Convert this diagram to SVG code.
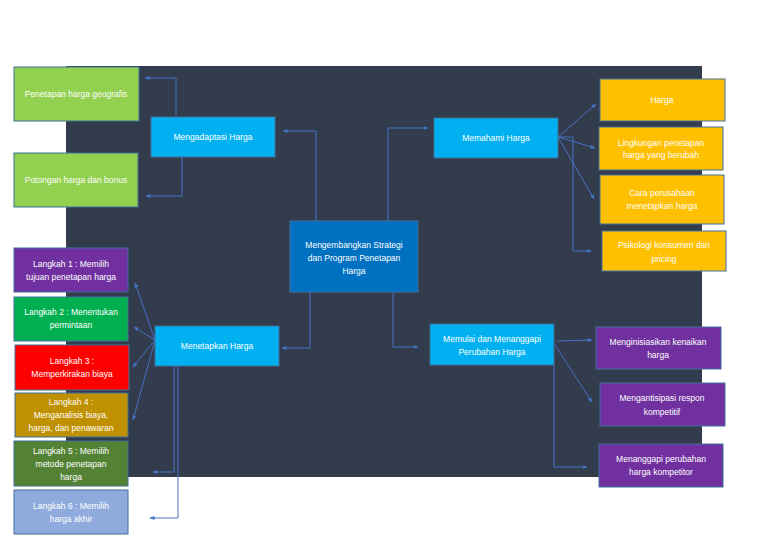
<svg xmlns="http://www.w3.org/2000/svg" width="768" height="543" viewBox="0 0 768 543">
<defs>
<marker id="a" viewBox="0 0 10 10" refX="9" refY="5" markerWidth="5" markerHeight="5" orient="auto"><path d="M0,1 L10,5 L0,9 z" fill="#4472c4"/></marker>
<style>
.n rect{stroke:#41719c;stroke-width:1}
.n text{fill:#fff;font-family:"Liberation Sans",Arial,sans-serif;font-size:8.5px;text-anchor:middle}
#conn path{fill:none;stroke:#4472c4;stroke-width:1;marker-end:url(#a)}
</style>
</defs>
<rect width="768" height="543" fill="#fff"/>
<rect x="66" y="66" width="636" height="411" fill="#333c4d"/>
<g id="conn">
<path d="M316,221 V131 H283"/>
<path d="M388,221 V128 H428"/>
<path d="M176,117 V78 H145"/>
<path d="M182,157 V196 H146"/>
<path d="M558,137 L596,104"/>
<path d="M558,137 L595,148"/>
<path d="M558,137 L594,199"/>
<path d="M558,137 H573 V251 H591"/>
<path d="M310,290 V348 H282"/>
<path d="M393,293 V347 H418"/>
<path d="M557,341 L592,340"/>
<path d="M555,345 L592,402"/>
<path d="M554,365 V467 H587"/>
<path d="M155,340 L135,283"/>
<path d="M155,340 L134,327"/>
<path d="M155,340 L133,367"/>
<path d="M155,340 L133,420"/>
<path d="M174,366 V472 H153"/>
<path d="M178,366 V518 H150"/>
</g>
<g id="geo" class="n"><rect x="14" y="67" width="125" height="54" fill="#92d050"/><text x="76" y="97">Penetapan harga geografis</text></g>
<g id="potongan" class="n"><rect x="14" y="153" width="124" height="54" fill="#92d050"/><text x="76" y="183">Potongan harga dan bonus</text></g>
<g id="adaptasi" class="n"><rect x="151" y="117" width="124" height="40" fill="#00b0f0"/><text x="213" y="140">Mengadaptasi Harga</text></g>
<g id="center" class="n"><rect x="290" y="221" width="128" height="71" fill="#0070c0"/><text x="354" y="248">Mengembangkan Strategi</text><text x="354" y="261">dan Program Penetapan</text><text x="354" y="274">Harga</text></g>
<g id="memahami" class="n"><rect x="434" y="118" width="124" height="40" fill="#00b0f0"/><text x="496" y="141">Memahami Harga</text></g>
<g id="harga" class="n"><rect x="600" y="79" width="125" height="42" fill="#ffc000"/><text x="662" y="103">Harga</text></g>
<g id="lingkungan" class="n"><rect x="599" y="127" width="124" height="43" fill="#ffc000"/><text x="661" y="146">Lingkungan penetapan</text><text x="661" y="158">harga yang berubah</text></g>
<g id="cara" class="n"><rect x="600" y="175" width="124" height="49" fill="#ffc000"/><text x="662" y="196">Cara perusahaan</text><text x="662" y="209">menetapkan harga</text></g>
<g id="psikologi" class="n"><rect x="602" y="231" width="124" height="40" fill="#ffc000"/><text x="664" y="248">Psikologi konsumen dan</text><text x="664" y="262">pricing</text></g>
<g id="memulai" class="n"><rect x="430" y="324" width="124" height="41" fill="#00b0f0"/><text x="492" y="342">Memulai dan Menanggapi</text><text x="492" y="355">Perubahan Harga</text></g>
<g id="inisiasi" class="n"><rect x="596" y="327" width="125" height="42" fill="#7030a0"/><text x="658" y="345">Menginisiasikan kenaikan</text><text x="658" y="358">harga</text></g>
<g id="antisipasi" class="n"><rect x="600" y="383" width="125" height="43" fill="#7030a0"/><text x="662" y="401">Mengantisipasi respon</text><text x="662" y="415">kompetitif</text></g>
<g id="menanggapi" class="n"><rect x="599" y="444" width="124" height="43" fill="#7030a0"/><text x="661" y="462">Menanggapi perubahan</text><text x="661" y="475">harga kompetitor</text></g>
<g id="menetapkan" class="n"><rect x="155" y="326" width="124" height="40" fill="#00b0f0"/><text x="217" y="349">Menetapkan Harga</text></g>
<g id="l1" class="n"><rect x="14" y="248" width="114" height="44" fill="#7030a0"/><text x="71" y="267">Langkah 1 : Memilih</text><text x="71" y="280">tujuan penetapan harga</text></g>
<g id="l2" class="n"><rect x="14" y="297" width="114" height="44" fill="#00b050"/><text x="71" y="315">Langkah 2 : Menentukan</text><text x="71" y="328">permintaan</text></g>
<g id="l3" class="n"><rect x="15" y="345" width="114" height="45" fill="#ff0000"/><text x="72" y="364">Langkah 3 :</text><text x="72" y="377">Memperkirakan biaya</text></g>
<g id="l4" class="n"><rect x="15" y="393" width="113" height="44" fill="#bf9000"/><text x="71" y="405">Langkah 4 :</text><text x="71" y="418">Menganalisis biaya,</text><text x="71" y="431">harga, dan penawaran</text></g>
<g id="l5" class="n"><rect x="14" y="441" width="114" height="45" fill="#548235"/><text x="71" y="454">Langkah 5 : Memilih</text><text x="71" y="467">metode penetapan</text><text x="71" y="480">harga</text></g>
<g id="l6" class="n"><rect x="14" y="490" width="114" height="44" fill="#8faadc"/><text x="71" y="509">Langkah 6 : Memilih</text><text x="71" y="522">harga akhir</text></g>
</svg>
